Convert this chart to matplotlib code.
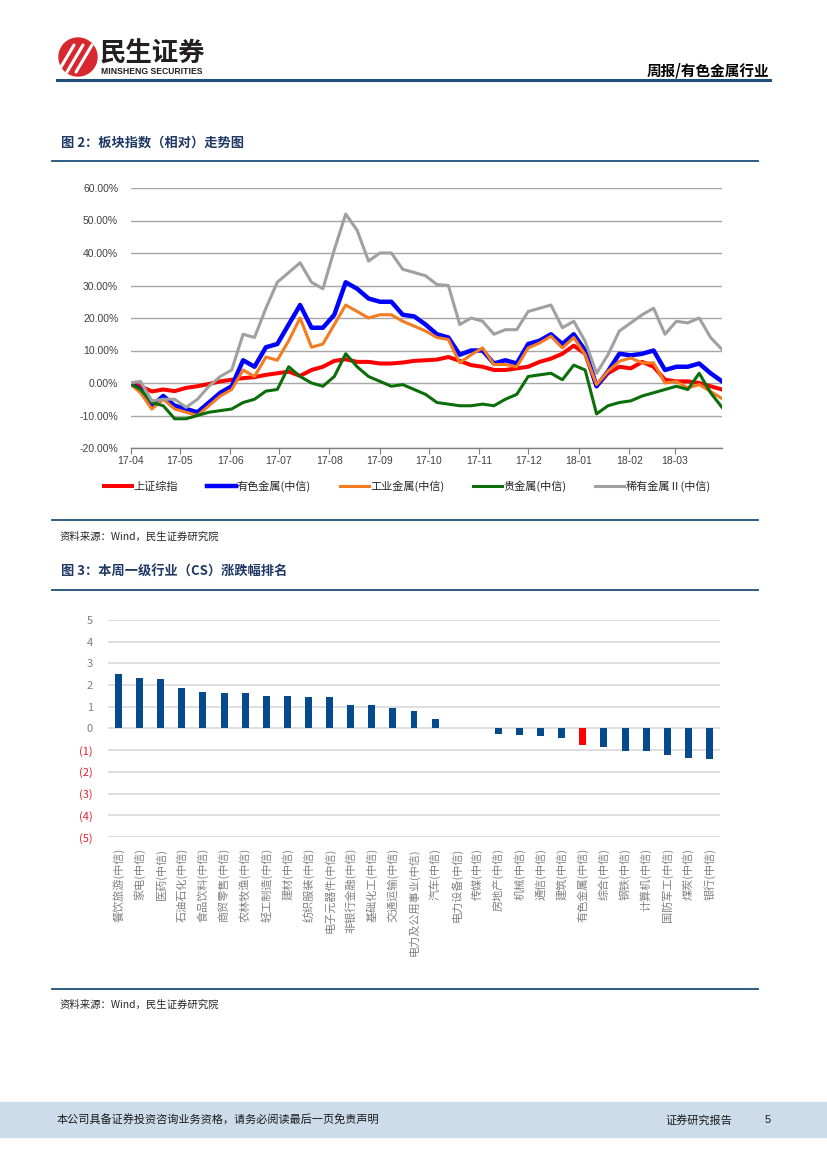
import pandas as pd
import matplotlib
matplotlib.use('Agg')
from matplotlib import pyplot as plt
from matplotlib.lines import Line2D
from matplotlib.patches import Rectangle, Circle
import matplotlib.dates as mdates

plt.rcParams['font.family'] = ['Noto Sans CJK SC', 'DejaVu Sans']

# ---- figure 2 data: weekly relative index (%), from 2017-03-31 ----
start_date = '2017-03-31'
sh_index = [0, -1.0, -2.6, -2.0, -2.5, -1.5, -1.0, -0.3, 0.5, 1.0, 1.5, 1.8, 2.5, 3.0, 3.5, 2.2, 4.0, 5.0, 6.8, 7.3, 6.5,
            6.5, 6.0, 6.0, 6.3, 6.8, 7.0, 7.2, 8.0, 6.8, 5.5, 5.0, 4.0, 4.0, 4.5, 5.0, 6.5, 7.5, 9.0, 11.5, 9.0,
            -1.0, 3.0, 5.0, 4.5, 6.5, 5.0, 1.0, 0.5, 0.5, 0.0, -1.0, -2.0]
nonferrous = [0, -2, -7, -4, -7, -8, -9, -6, -3, -1, 7, 5, 11, 12, 18, 24, 17, 17, 21, 31, 29,
              26, 25, 25, 21, 20.5, 18, 15, 14, 8.7, 10, 10, 6, 7, 6, 12, 13, 15, 12, 15, 10,
              -1, 3.6, 9, 8.5, 9, 10, 4, 5, 5, 6, 3, 0.5]
industrial = [0, -3, -8, -5, -8, -9, -10, -7, -4, -2, 4, 2, 8, 7, 13, 20, 11, 12, 18, 24, 22,
              20, 21, 21, 19, 17.5, 16, 14, 13.4, 6.2, 8.7, 10.8, 5.7, 5.7, 5, 10.8, 12.3, 14.4, 10.8, 14, 8.7,
              -0.5, 3.6, 6.7, 7.7, 6.2, 6.2, 0, 0.5, -1.5, -0.5, -2.6, -4.8]
precious = [0, -2, -6, -7, -11, -11, -10, -9, -8.5, -8, -6, -5, -2.5, -2, 5, 2, 0, -1, 2, 9, 5,
            2, 0.5, -1, -0.5, -2, -3.5, -6, -6.5, -7, -7, -6.5, -7, -5, -3.5, 2, 2.5, 3, 1, 5.5, 4,
            -9.5, -7, -6, -5.5, -4, -3, -2, -1, -2, 3, -3, -7.5]
rare = [0, 0.5, -5.5, -5, -5, -7.5, -5, -1, 2, 4, 15, 14, 23, 31, 34, 37, 31, 29, 41, 52, 47,
        37.5, 40, 40, 35, 34, 33, 30.3, 30, 18, 20, 19, 15, 16.4, 16.4, 22, 23, 24, 17, 19, 12.8,
        3, 8.7, 16, 18.5, 21, 23, 15, 19, 18.5, 20, 14, 10.3]
series_names = ['上证综指', '有色金属(中信)', '工业金属(中信)', '贵金属(中信)', '稀有金属Ⅱ(中信)']

# ---- figure 3 data: weekly change by industry ----
industries = ['餐饮旅游(中信)', '家电(中信)', '医药(中信)', '石油石化(中信)', '食品饮料(中信)', '商贸零售(中信)',
              '农林牧渔(中信)', '轻工制造(中信)', '建材(中信)', '纺织服装(中信)', '电子元器件(中信)',
              '非银行金融(中信)', '基础化工(中信)', '交通运输(中信)', '电力及公用事业(中信)', '汽车(中信)',
              '电力设备(中信)', '传媒(中信)', '房地产(中信)', '机械(中信)', '通信(中信)', '建筑(中信)',
              '有色金属(中信)', '综合(中信)', '钢铁(中信)', '计算机(中信)', '国防军工(中信)', '煤炭(中信)', '银行(中信)']
changes = [2.50, 2.35, 2.26, 1.88, 1.66, 1.65, 1.62, 1.51, 1.48, 1.46, 1.43, 1.08, 1.06, 0.94, 0.82, 0.45,
           0.04, 0.0, -0.26, -0.29, -0.34, -0.43, -0.75, -0.86, -1.02, -1.02, -1.23, -1.34, -1.42]
bar_ticks = [5, 4, 3, 2, 1, 0, -1, -2, -3, -4, -5]

W, H = 827, 1169
fig = plt.figure(figsize=(W / 100, H / 100), dpi=100)

def fx(px):
    return px / W

def fy(py):
    return 1 - py / H

def hline(y, x0, x1, color, lw):
    fig.add_artist(Line2D([fx(x0), fx(x1)], [fy(y), fy(y)], color=color, lw=lw, transform=fig.transFigure))

navy = '#1f4e79'
head_col = '#1f3864'

# ---- header ----
logo = fig.add_axes([fx(58), fy(77), fx(40), 40 / H])
logo.set_xlim(-1, 1)
logo.set_ylim(-1, 1)
logo.set_aspect('equal')
logo.axis('off')
logo.add_patch(Circle((0, 0), 0.95, color='#d7282f'))
for off in [-0.45, 0.0, 0.45]:
    logo.plot([-0.55 + off, 0.25 + off], [-0.75, 0.6], color='white', lw=2.2, solid_capstyle='round')
fig.text(fx(100), fy(54), '民生证券', fontsize=19, fontweight='bold', color='#231f20', va='center', ha='left')
fig.text(fx(101), fy(71), 'MINSHENG SECURITIES', fontsize=6.2, fontweight='bold', color='#231f20',
         va='center', ha='left', family='Liberation Sans')
fig.text(fx(769), fy(70), '周报/有色金属行业', fontsize=10.5, fontweight='bold', color='black', va='center', ha='right')
hline(80, 57, 770, navy, 2.2)

# ---- figure 2 ----
fig.text(fx(61), fy(143), '图 2：板块指数（相对）走势图', fontsize=9.5, fontweight='bold', color=head_col, va='center')
hline(161, 52, 758, navy, 1.3)

dates = pd.date_range(start_date, periods=len(sh_index), freq='7D')
ax1 = fig.add_axes([fx(130.7), fy(448), fx(722 - 130.7), (448 - 188) / H])
styles = [('#ff0000', 2.9), ('#0000ff', 3.2), ('#f47b20', 2.2), ('#0b6e0b', 2.2), ('#a0a0a0', 2.2)]
for vals, name, (c, lw) in zip([sh_index, nonferrous, industrial, precious, rare], series_names, styles):
    ax1.plot(dates, vals, color=c, lw=lw, label=name, solid_joinstyle='round')
ax1.set_ylim(-20, 60)
ax1.set_yticks(range(-20, 61, 10))
ax1.set_yticklabels(['%.2f%%' % v for v in range(-20, 61, 10)], family='Liberation Sans', fontsize=7.5, color='#404040')
ax1.set_xlim(pd.Timestamp('2017-04-01'), pd.Timestamp('2018-03-30'))
ax1.xaxis.set_major_locator(mdates.MonthLocator())
ax1.xaxis.set_major_formatter(mdates.DateFormatter('%y-%m'))
for lab in ax1.get_xticklabels():
    lab.set_family('Liberation Sans')
ax1.tick_params(axis='x', labelsize=7.5, labelcolor='#404040', color='#808080', length=4, pad=2)
ax1.tick_params(axis='y', length=0, pad=9)
ax1.grid(axis='y', color='#a6a6a6', lw=1.0)
ax1.set_axisbelow(True)
for s in ['top', 'right', 'left']:
    ax1.spines[s].set_visible(False)
ax1.spines['bottom'].set_color('#808080')
ax1.spines['bottom'].set_linewidth(1.0)

fig.legend(*ax1.get_legend_handles_labels(), loc='center', bbox_to_anchor=(fx(407), fy(486)), ncol=5,
           frameon=False, fontsize=8, handlelength=2.6, columnspacing=2.6, handletextpad=0.1,
           labelcolor='#262626')

hline(520, 52, 758, navy, 1.3)
fig.text(fx(60), fy(537), '资料来源：Wind，民生证券研究院', fontsize=7.5, color='#262626', va='center')

# ---- figure 3 ----
fig.text(fx(61), fy(572), '图 3：本周一级行业（CS）涨跌幅排名', fontsize=9.5, fontweight='bold', color=head_col, va='center')
hline(590, 52, 758, navy, 1.3)

ax2 = fig.add_axes([fx(108), fy(837), fx(720 - 108), (837 - 620) / H])
xpos = list(range(len(industries)))
colors = ['#ff0000' if n == '有色金属(中信)' else '#064a8e' for n in industries]
ax2.bar(xpos, changes, width=0.33, color=colors, zorder=3)
ax2.set_ylim(-5, 5)
ax2.set_xlim(-0.5, len(industries) - 0.5)
ax2.set_yticks(bar_ticks)
ax2.set_yticklabels([str(v) if v >= 0 else '(%d)' % -v for v in bar_ticks], fontsize=8)
for lab, v in zip(ax2.get_yticklabels(), bar_ticks):
    lab.set_color('#7f7f7f' if v >= 0 else '#e0202b')
ax2.set_xticks(xpos)
ax2.set_xticklabels(industries, rotation=90, fontsize=8, color='#808080')
ax2.tick_params(axis='both', length=0)
ax2.tick_params(axis='y', pad=11)
ax2.tick_params(axis='x', pad=8)
ax2.grid(axis='y', color='#d9d9d9', lw=1.2)
ax2.set_axisbelow(True)
for s in ax2.spines.values():
    s.set_visible(False)

hline(989, 52, 758, navy, 1.3)
fig.text(fx(60), fy(1005), '资料来源：Wind，民生证券研究院', fontsize=7.5, color='#262626', va='center')

# ---- footer ----
fig.add_artist(Rectangle((0, fy(1137)), 1, 35 / H, color='#cddcea', transform=fig.transFigure, zorder=0))
fig.text(fx(57), fy(1120), '本公司具备证券投资咨询业务资格，请务必阅读最后一页免责声明', fontsize=8,
         color='#1a1a1a', va='center')
fig.text(fx(665), fy(1120), '证券研究报告', fontsize=8, color='#1a1a1a', va='center')
fig.text(fx(765), fy(1120), '5', fontsize=8, color='#1a1a1a', va='center', family='Liberation Sans')

fig.savefig('out.png', dpi=100)
